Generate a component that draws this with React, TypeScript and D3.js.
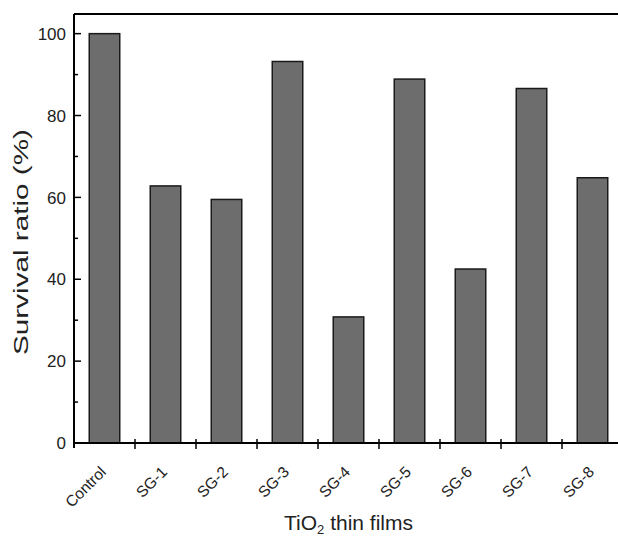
import { useEffect, useRef } from 'react'
import * as d3 from 'd3'

const films = ['Control', 'SG-1', 'SG-2', 'SG-3', 'SG-4', 'SG-5', 'SG-6', 'SG-7', 'SG-8']
const survival = [100, 62.8, 59.5, 93.2, 30.8, 88.9, 42.5, 86.6, 64.8]
const yTicks = [0, 20, 40, 60, 80, 100]
const yMinorTicks = [10, 30, 50, 70, 90]

const App = () => {
  const ref = useRef<SVGSVGElement | null>(null)

  useEffect(() => {
    const svg = d3.select(ref.current)
    svg.selectAll('*').remove()

    // plot box (runs off the right edge like the original)
    const left = 74, right = 623, top = 14, bottom = 443
    const font = 'Liberation Sans, Arial, sans-serif'

    const x = d3.scaleBand()
      .domain(films)
      .range([left, right])
      .paddingInner(0.5)
      .paddingOuter(0.25)

    const y = d3.scaleLinear()
      .domain([0, 104.8])
      .range([bottom, top])

    // bars
    svg.append('g')
      .selectAll('rect')
      .data(films.map((f, i) => ({ f, v: survival[i] })))
      .enter()
      .append('rect')
      .attr('x', d => x(d.f)!)
      .attr('y', d => y(d.v))
      .attr('width', x.bandwidth())
      .attr('height', d => y(0) - y(d.v))
      .style('fill', '#6d6d6d')
      .style('stroke', '#1a1a1a')
      .style('stroke-width', 1.5)

    // top frame line
    svg.append('line')
      .attr('x1', left).attr('x2', right)
      .attr('y1', top).attr('y2', top)
      .style('stroke', '#000').style('stroke-width', 2)

    // y axis
    const yAxis = svg.append('g')
    yAxis.append('line')
      .attr('x1', left).attr('x2', left)
      .attr('y1', top).attr('y2', bottom + 5)
      .style('stroke', '#000').style('stroke-width', 2)
    yAxis.selectAll('.major')
      .data(yTicks)
      .enter()
      .append('line')
      .attr('x1', left).attr('x2', left + 7)
      .attr('y1', d => y(d)).attr('y2', d => y(d))
      .style('stroke', '#000').style('stroke-width', 1.5)
    yAxis.selectAll('.minor')
      .data(yMinorTicks)
      .enter()
      .append('line')
      .attr('x1', left).attr('x2', left + 4)
      .attr('y1', d => y(d)).attr('y2', d => y(d))
      .style('stroke', '#000').style('stroke-width', 1.5)
    yAxis.selectAll('text')
      .data(yTicks)
      .enter()
      .append('text')
      .attr('x', left - 8)
      .attr('y', d => y(d))
      .attr('dy', '0.36em')
      .attr('text-anchor', 'end')
      .style('font-family', font)
      .style('font-size', '17px')
      .style('fill', '#222')
      .text(d => d)

    // x axis
    const xAxis = svg.append('g')
    xAxis.append('line')
      .attr('x1', left - 1).attr('x2', right)
      .attr('y1', bottom).attr('y2', bottom)
      .style('stroke', '#000').style('stroke-width', 2)
    xAxis.selectAll('.tick')
      .data(films.slice(1))
      .enter()
      .append('line')
      .attr('x1', d => x(d)! - x.step() * x.paddingInner() / 2)
      .attr('x2', d => x(d)! - x.step() * x.paddingInner() / 2)
      .attr('y1', bottom - 4).attr('y2', bottom + 6)
      .style('stroke', '#000').style('stroke-width', 1.5)
    xAxis.selectAll('text')
      .data(films)
      .enter()
      .append('text')
      .attr('transform', d => `translate(${x(d)! + x.bandwidth() / 2 + 2.5},${bottom + 30}) rotate(-45)`)
      .attr('text-anchor', 'end')
      .style('font-family', font)
      .style('font-size', '15.5px')
      .style('fill', '#222')
      .text(d => d)

    // axis titles
    svg.append('text')
      .attr('transform', `translate(28,242) rotate(-90)`)
      .attr('text-anchor', 'middle')
      .attr('textLength', 226)
      .attr('lengthAdjust', 'spacingAndGlyphs')
      .style('font-family', font)
      .style('font-size', '20px')
      .style('fill', '#222')
      .text('Survival ratio (%)')

    const xt = svg.append('text')
      .attr('x', (left + right) / 2)
      .attr('y', 530)
      .attr('text-anchor', 'middle')
      .style('font-family', font)
      .style('font-size', '21px')
      .style('fill', '#222')
    xt.append('tspan').text('TiO')
    xt.append('tspan').attr('dy', 4).style('font-size', '13px').text('2')
    xt.append('tspan').attr('dy', -4).text(' thin films')
  }, [])

  return (
    <svg
      ref={ref}
      width={618}
      height={540}
      style={{ position: 'absolute', left: 0, top: 0, background: '#fff' }}
    />
  )
}

export default App
